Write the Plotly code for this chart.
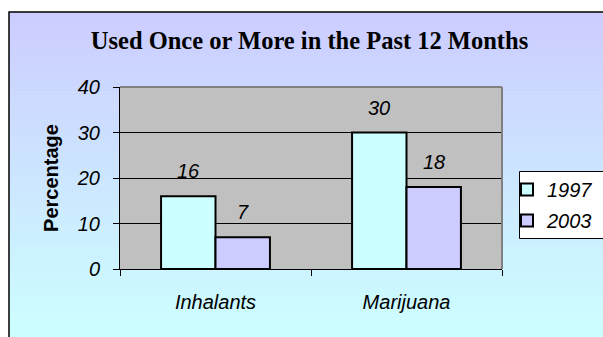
import plotly.graph_objects as go

# ---- data ----
categories = ["Inhalants", "Marijuana"]
series_names = ["1997", "2003"]
values_1997 = [16, 30]
values_2003 = [7, 18]
bar_colors = ["#CCFFFF", "#CCCCFF"]
y_ticks = [0, 10, 20, 30, 40]
title_text = "Used Once or More in the Past 12 Months"
y_title = "Percentage"

W, H = 603, 337
L, R, T, B = 120, 101, 87, 68  # plot area: x 120..502, y 87..269
PW, PH = W - L - R, H - T - B
BARGAP = 0.43


def xp(px):
    return (px - L) / PW


def yp(py):
    return (H - B - py) / PH


series = [values_1997, values_2003]
fig = go.Figure()
for name, vals, col in zip(series_names, series, bar_colors):
    fig.add_trace(go.Bar(
        x=categories, y=vals, name=name, legendgroup=name,
        marker=dict(color=col, line=dict(color="black", width=2)),
        hoverinfo="skip",
    ))

# data labels above bars
nser = len(series)
bw = (1 - BARGAP) / nser
annotations = []
for si, vals in enumerate(series):
    off = -(1 - BARGAP) / 2 + bw * (si + 0.5)
    for ci, v in enumerate(vals):
        annotations.append(dict(
            x=ci + off, y=v, xref="x", yref="y", text=str(v), showarrow=False,
            yanchor="middle", yshift=25,
            font=dict(family="Arial, Liberation Sans", size=20, color="black", style="italic"),
        ))

# gradient background + frame
shapes = []
top_c = (204, 204, 255)
bot_c = (204, 255, 255)
y_top, y_bot = 12, H + 2
N = 110
step = (y_bot - y_top) / N
for i in range(N):
    f = (i + 0.5) / N
    c = tuple(round(a + (b - a) * f) for a, b in zip(top_c, bot_c))
    py0 = y_top + i * step
    py1 = py0 + step + 0.6
    shapes.append(dict(
        type="rect", xref="paper", yref="paper", layer="below",
        x0=xp(9), x1=xp(W + 5), y0=yp(py0), y1=yp(py1),
        fillcolor="rgb(%d,%d,%d)" % c, line=dict(width=0),
    ))
# plot area background
shapes.append(dict(type="rect", xref="paper", yref="paper", layer="below",
                   x0=0, x1=1, y0=0, y1=1, fillcolor="#C0C0C0", line=dict(width=0)))
# gray plot border top/right
shapes.append(dict(type="line", xref="paper", yref="paper", x0=0, x1=1, y0=1, y1=1,
                   line=dict(color="#808080", width=2)))
shapes.append(dict(type="line", xref="paper", yref="paper", x0=1, x1=1, y0=0, y1=1,
                   line=dict(color="#808080", width=2)))
# outer chart frame
shapes.append(dict(type="rect", xref="paper", yref="paper", layer="above",
                   x0=xp(9), x1=xp(W + 10), y0=yp(12), y1=yp(H + 10),
                   fillcolor="rgba(0,0,0,0)", line=dict(color="black", width=1.5)))
# legend box
shapes.append(dict(type="rect", xref="paper", yref="paper", layer="above",
                   x0=xp(519.5), x1=xp(W + 10), y0=yp(171.5), y1=yp(238.5),
                   fillcolor="white", line=dict(color="black", width=1)))

fig.update_layout(
    width=W, height=H,
    margin=dict(l=L, r=R, t=T, b=B, pad=0, autoexpand=False),
    paper_bgcolor="white",
    plot_bgcolor="rgba(0,0,0,0)",
    barmode="group", bargap=BARGAP, bargroupgap=0,
    title=dict(text=title_text, x=309.5 / W, xanchor="center", y=1 - 40 / H, yanchor="middle",
               font=dict(family="Liberation Serif, Times New Roman, serif", size=24.5, color="black",
                         weight="bold")),
    xaxis=dict(
        showline=True, linecolor="black", linewidth=1,
        ticks="outside", tickson="boundaries", ticklen=6, tickcolor="black",
        tickfont=dict(family="Arial, Liberation Sans", size=20, color="black", style="italic"),
        ticklabelstandoff=15, showgrid=False, automargin=False,
    ),
    yaxis=dict(
        range=[0, 40], tickvals=y_ticks, ticktext=[str(t) for t in y_ticks],
        showline=True, linecolor="black", linewidth=1,
        ticks="outside", ticklen=6, tickcolor="black",
        tickfont=dict(family="Arial, Liberation Sans", size=20, color="black", style="italic"),
        ticklabelstandoff=9, automargin=False,
        showgrid=True, gridcolor="black", gridwidth=1, zeroline=False,
        title=dict(text=y_title, standoff=12,
                   font=dict(family="Arial, Liberation Sans", size=20, color="black", weight="bold")),
    ),
    legend=dict(
        x=xp(507), y=yp(170), xanchor="left", yanchor="top",
        bgcolor="rgba(0,0,0,0)", borderwidth=0,
        font=dict(family="Arial, Liberation Sans", size=20, color="black", style="italic"),
        tracegroupgap=2, itemwidth=30,
    ),
    annotations=annotations,
    shapes=shapes,
    showlegend=True,
)

fig.write_html("out.html")
